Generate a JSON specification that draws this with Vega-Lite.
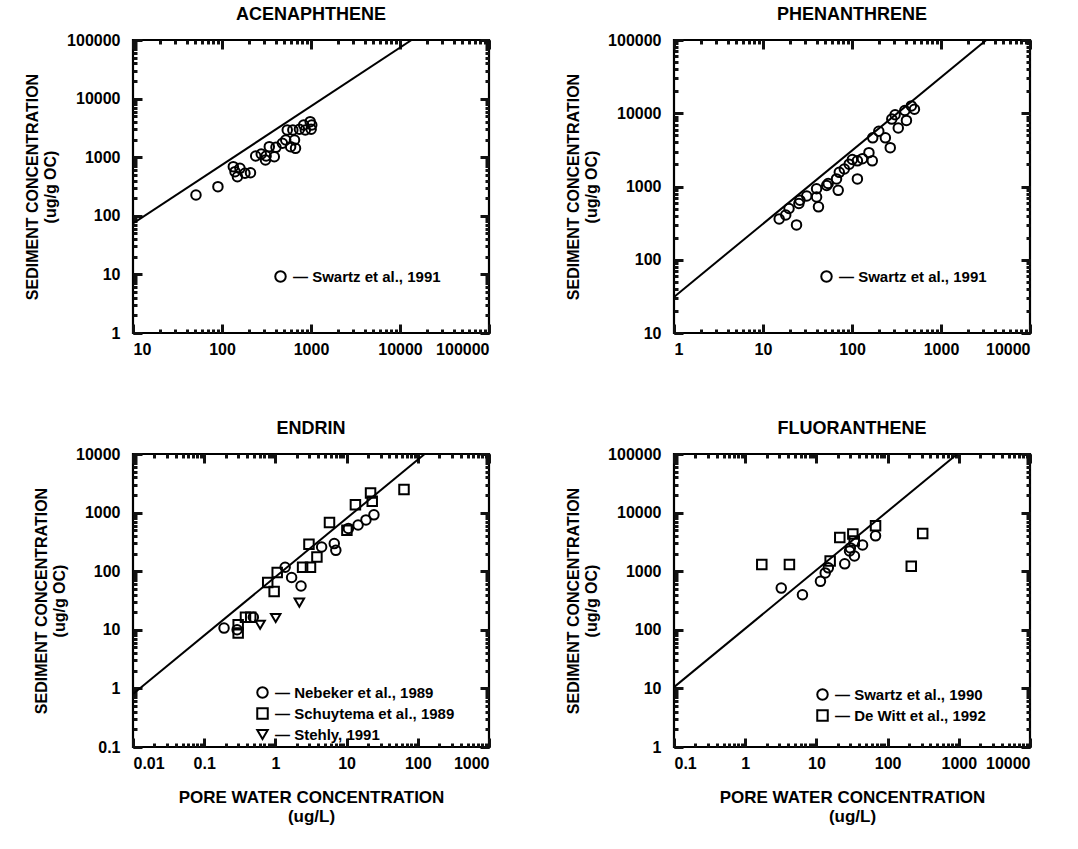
{
  "$schema": "https://vega.github.io/schema/vega-lite/v6.json",
  "background": "white",
  "padding": {"left": 23, "top": 4, "right": 5, "bottom": 5},
  "datasets": {
    "ace": [
      {"x": 51, "y": 226, "source": "Swartz et al., 1991"},
      {"x": 90, "y": 314, "source": "Swartz et al., 1991"},
      {"x": 134, "y": 689, "source": "Swartz et al., 1991"},
      {"x": 149, "y": 465, "source": "Swartz et al., 1991"},
      {"x": 140, "y": 566, "source": "Swartz et al., 1991"},
      {"x": 159, "y": 646, "source": "Swartz et al., 1991"},
      {"x": 181, "y": 531, "source": "Swartz et al., 1991"},
      {"x": 209, "y": 544, "source": "Swartz et al., 1991"},
      {"x": 239, "y": 1048, "source": "Swartz et al., 1991"},
      {"x": 276, "y": 1135, "source": "Swartz et al., 1991"},
      {"x": 308, "y": 895, "source": "Swartz et al., 1991"},
      {"x": 313, "y": 1048, "source": "Swartz et al., 1991"},
      {"x": 340, "y": 1513, "source": "Swartz et al., 1991"},
      {"x": 387, "y": 1020, "source": "Swartz et al., 1991"},
      {"x": 404, "y": 1474, "source": "Swartz et al., 1991"},
      {"x": 477, "y": 1726, "source": "Swartz et al., 1991"},
      {"x": 520, "y": 1967, "source": "Swartz et al., 1991"},
      {"x": 590, "y": 1513, "source": "Swartz et al., 1991"},
      {"x": 670, "y": 1416, "source": "Swartz et al., 1991"},
      {"x": 541, "y": 2911, "source": "Swartz et al., 1991"},
      {"x": 653, "y": 1967, "source": "Swartz et al., 1991"},
      {"x": 625, "y": 2911, "source": "Swartz et al., 1991"},
      {"x": 741, "y": 2992, "source": "Swartz et al., 1991"},
      {"x": 827, "y": 3548, "source": "Swartz et al., 1991"},
      {"x": 979, "y": 4040, "source": "Swartz et al., 1991"},
      {"x": 1004, "y": 2992, "source": "Swartz et al., 1991"},
      {"x": 863, "y": 2911, "source": "Swartz et al., 1991"},
      {"x": 1020, "y": 3548, "source": "Swartz et al., 1991"}
    ],
    "ace_fit": [{"x": 10, "y": 74}, {"x": 13500, "y": 100000}],
    "phe": [
      {"x": 464, "y": 12600, "source": "Swartz et al., 1991"},
      {"x": 392, "y": 10900, "source": "Swartz et al., 1991"},
      {"x": 503, "y": 11350, "source": "Swartz et al., 1991"},
      {"x": 305, "y": 9530, "source": "Swartz et al., 1991"},
      {"x": 280, "y": 8320, "source": "Swartz et al., 1991"},
      {"x": 409, "y": 7990, "source": "Swartz et al., 1991"},
      {"x": 331, "y": 6300, "source": "Swartz et al., 1991"},
      {"x": 200, "y": 5690, "source": "Swartz et al., 1991"},
      {"x": 171, "y": 4620, "source": "Swartz et al., 1991"},
      {"x": 237, "y": 4620, "source": "Swartz et al., 1991"},
      {"x": 269, "y": 3390, "source": "Swartz et al., 1991"},
      {"x": 155, "y": 2900, "source": "Swartz et al., 1991"},
      {"x": 169, "y": 2240, "source": "Swartz et al., 1991"},
      {"x": 115, "y": 2240, "source": "Swartz et al., 1991"},
      {"x": 115, "y": 1270, "source": "Swartz et al., 1991"},
      {"x": 93, "y": 2020, "source": "Swartz et al., 1991"},
      {"x": 82, "y": 1730, "source": "Swartz et al., 1991"},
      {"x": 72, "y": 1560, "source": "Swartz et al., 1991"},
      {"x": 67, "y": 1270, "source": "Swartz et al., 1991"},
      {"x": 70, "y": 887, "source": "Swartz et al., 1991"},
      {"x": 52, "y": 1035, "source": "Swartz et al., 1991"},
      {"x": 54, "y": 1100, "source": "Swartz et al., 1991"},
      {"x": 40, "y": 933, "source": "Swartz et al., 1991"},
      {"x": 31, "y": 742, "source": "Swartz et al., 1991"},
      {"x": 26, "y": 650, "source": "Swartz et al., 1991"},
      {"x": 101, "y": 2340, "source": "Swartz et al., 1991"},
      {"x": 131, "y": 2400, "source": "Swartz et al., 1991"},
      {"x": 40, "y": 720, "source": "Swartz et al., 1991"},
      {"x": 25.3, "y": 585, "source": "Swartz et al., 1991"},
      {"x": 19.6, "y": 501, "source": "Swartz et al., 1991"},
      {"x": 42, "y": 528, "source": "Swartz et al., 1991"},
      {"x": 18, "y": 408, "source": "Swartz et al., 1991"},
      {"x": 15.2, "y": 360, "source": "Swartz et al., 1991"},
      {"x": 23.8, "y": 299, "source": "Swartz et al., 1991"}
    ],
    "phe_fit": [{"x": 1, "y": 31}, {"x": 3230, "y": 100000}],
    "end": [
      {"x": 64, "y": 2480, "source": "Schuytema et al., 1989"},
      {"x": 21.7, "y": 2170, "source": "Schuytema et al., 1989"},
      {"x": 22.9, "y": 1560, "source": "Schuytema et al., 1989"},
      {"x": 13.3, "y": 1365, "source": "Schuytema et al., 1989"},
      {"x": 5.75, "y": 675, "source": "Schuytema et al., 1989"},
      {"x": 2.96, "y": 288, "source": "Schuytema et al., 1989"},
      {"x": 0.78, "y": 64, "source": "Schuytema et al., 1989"},
      {"x": 0.96, "y": 45, "source": "Schuytema et al., 1989"},
      {"x": 1.06, "y": 95, "source": "Schuytema et al., 1989"},
      {"x": 3.83, "y": 174, "source": "Schuytema et al., 1989"},
      {"x": 3.11, "y": 117, "source": "Schuytema et al., 1989"},
      {"x": 2.41, "y": 117, "source": "Schuytema et al., 1989"},
      {"x": 10.1, "y": 500, "source": "Schuytema et al., 1989"},
      {"x": 0.45, "y": 16.4, "source": "Schuytema et al., 1989"},
      {"x": 0.38, "y": 16.4, "source": "Schuytema et al., 1989"},
      {"x": 0.3, "y": 12.2, "source": "Schuytema et al., 1989"},
      {"x": 0.3, "y": 8.8, "source": "Schuytema et al., 1989"},
      {"x": 1.37, "y": 117, "source": "Nebeker et al., 1989"},
      {"x": 1.69, "y": 78, "source": "Nebeker et al., 1989"},
      {"x": 2.29, "y": 56, "source": "Nebeker et al., 1989"},
      {"x": 4.46, "y": 259, "source": "Nebeker et al., 1989"},
      {"x": 6.71, "y": 296, "source": "Nebeker et al., 1989"},
      {"x": 7.06, "y": 227, "source": "Nebeker et al., 1989"},
      {"x": 10.6, "y": 537, "source": "Nebeker et al., 1989"},
      {"x": 14.5, "y": 613, "source": "Nebeker et al., 1989"},
      {"x": 24.2, "y": 916, "source": "Nebeker et al., 1989"},
      {"x": 18.7, "y": 750, "source": "Nebeker et al., 1989"},
      {"x": 0.49, "y": 16.4, "source": "Nebeker et al., 1989"},
      {"x": 0.19, "y": 10.7, "source": "Nebeker et al., 1989"},
      {"x": 0.29, "y": 10, "source": "Nebeker et al., 1989"},
      {"x": 2.17, "y": 29, "source": "Stehly, 1991"},
      {"x": 1.01, "y": 15.9, "source": "Stehly, 1991"},
      {"x": 0.61, "y": 12.2, "source": "Stehly, 1991"}
    ],
    "end_fit": [{"x": 0.01, "y": 0.8}, {"x": 125, "y": 10000}],
    "flu": [
      {"x": 1.71, "y": 1306, "source": "De Witt et al., 1992"},
      {"x": 4.18, "y": 1306, "source": "De Witt et al., 1992"},
      {"x": 21.3, "y": 3750, "source": "De Witt et al., 1992"},
      {"x": 32.5, "y": 4300, "source": "De Witt et al., 1992"},
      {"x": 34, "y": 3290, "source": "De Witt et al., 1992"},
      {"x": 67.7, "y": 5970, "source": "De Witt et al., 1992"},
      {"x": 311, "y": 4400, "source": "De Witt et al., 1992"},
      {"x": 215, "y": 1220, "source": "De Witt et al., 1992"},
      {"x": 15.6, "y": 1487, "source": "De Witt et al., 1992"},
      {"x": 3.21, "y": 515, "source": "Swartz et al., 1990"},
      {"x": 6.37, "y": 396, "source": "Swartz et al., 1990"},
      {"x": 11.4, "y": 672, "source": "Swartz et al., 1990"},
      {"x": 13.3, "y": 935, "source": "Swartz et al., 1990"},
      {"x": 14.7, "y": 1140, "source": "Swartz et al., 1990"},
      {"x": 25, "y": 1336, "source": "Swartz et al., 1990"},
      {"x": 29.2, "y": 2210, "source": "Swartz et al., 1990"},
      {"x": 34.2, "y": 1815, "source": "Swartz et al., 1990"},
      {"x": 44.5, "y": 2800, "source": "Swartz et al., 1990"},
      {"x": 67.7, "y": 4010, "source": "Swartz et al., 1990"},
      {"x": 30, "y": 2500, "source": "Swartz et al., 1990"}
    ],
    "flu_fit": [{"x": 0.1, "y": 10.5}, {"x": 952, "y": 100000}]
  },
  "config": {
    "view": {"stroke": "black", "strokeWidth": 2.2},
    "font": "Liberation Sans",
    "axis": {
      "labelFont": "Liberation Sans", "labelFontWeight": "bold", "labelFontSize": 16, "labelColor": "black",
      "titleFont": "Liberation Sans", "titleFontWeight": "bold", "titleFontSize": 16, "titleColor": "black",
      "gridOpacity": 0, "domainColor": "black", "domainWidth": 2
    },
    "axisX": {"labelPadding": 8},
    "axisY": {"labelPadding": 13},
    "title": {"font": "Liberation Sans", "fontSize": 18, "fontWeight": "bold", "color": "black", "offset": 8},
    "legend": {
      "orient": "none", "title": null, "labelFont": "Liberation Sans", "labelFontSize": 15, "labelFontWeight": "bold",
      "labelColor": "black", "labelLimit": 400, "symbolStrokeColor": "black", "symbolStrokeWidth": 2, "symbolSize": 110, "symbolFillColor": "white", "symbolOpacity": 1,
      "rowPadding": 2, "labelOffset": 5
    }
  },
  "concat": [
    {
      "title": "ACENAPHTHENE",
      "width": 356, "height": 293,
      "layer": [
        {
          "data": {"name": "ace_fit"},
          "mark": {"type": "line", "color": "black", "strokeWidth": 2, "clip": true},
          "encoding": {
            "x": {"field": "x", "type": "quantitative", "scale": {"type": "log", "domain": [10, 100000]},
              "axis": {"orient": "top", "labels": false, "title": null, "domain": false, "grid": false, "ticks": true, "tickColor": "#111111", "tickWidth": 3, "tickSize": -4, "values": [10,20,30,40,50,60,70,80,90,100,200,300,400,500,600,700,800,900,1000,2000,3000,4000,5000,6000,7000,8000,9000,10000,20000,30000,40000,50000,60000,70000,80000,90000,100000]}},
            "y": {"field": "y", "type": "quantitative", "scale": {"type": "log", "domain": [1, 100000]},
              "axis": {"orient": "right", "labels": false, "title": null, "domain": false, "grid": false, "ticks": true, "tickColor": "#111111", "tickWidth": 3, "tickSize": -4, "values": [1,2,3,4,5,6,7,8,9,10,20,30,40,50,60,70,80,90,100,200,300,400,500,600,700,800,900,1000,2000,3000,4000,5000,6000,7000,8000,9000,10000,20000,30000,40000,50000,60000,70000,80000,90000,100000]}}
          }
        },
        {
          "data": {"name": "ace_fit"},
          "mark": {"type": "line", "opacity": 0},
          "encoding": {
            "x": {"field": "x", "type": "quantitative", "scale": {"type": "log", "domain": [10, 100000]},
              "axis": {"orient": "top", "labels": false, "title": null, "domain": false, "grid": false, "ticks": true, "tickColor": "#111111", "tickWidth": 3, "tickSize": -9, "values": [10,100,1000,10000,100000]}},
            "y": {"field": "y", "type": "quantitative", "scale": {"type": "log", "domain": [1, 100000]},
              "axis": {"orient": "right", "labels": false, "title": null, "domain": false, "grid": false, "ticks": true, "tickColor": "#111111", "tickWidth": 3, "tickSize": -9, "values": [1,10,100,1000,10000,100000]}}
          }
        },
        {
          "data": {"name": "ace_fit"},
          "mark": {"type": "line", "opacity": 0},
          "encoding": {
            "x": {"field": "x", "type": "quantitative", "scale": {"type": "log", "domain": [10, 100000]},
              "axis": {"orient": "bottom", "labels": false, "title": null, "domain": false, "grid": false, "ticks": true, "tickColor": "#111111", "tickWidth": 3, "tickSize": -4, "values": [10,20,30,40,50,60,70,80,90,100,200,300,400,500,600,700,800,900,1000,2000,3000,4000,5000,6000,7000,8000,9000,10000,20000,30000,40000,50000,60000,70000,80000,90000,100000]}},
            "y": {"field": "y", "type": "quantitative", "scale": {"type": "log", "domain": [1, 100000]},
              "axis": {"orient": "left", "labels": false, "title": null, "domain": false, "grid": false, "ticks": true, "tickColor": "#111111", "tickWidth": 3, "tickSize": -4, "values": [1,2,3,4,5,6,7,8,9,10,20,30,40,50,60,70,80,90,100,200,300,400,500,600,700,800,900,1000,2000,3000,4000,5000,6000,7000,8000,9000,10000,20000,30000,40000,50000,60000,70000,80000,90000,100000]}}
          }
        },
        {
          "data": {"name": "ace"},
          "mark": {"type": "point", "filled": false, "color": "black", "opacity": 1, "strokeWidth": 2, "size": 90},
          "encoding": {
            "x": {"field": "x", "type": "quantitative", "scale": {"type": "log", "domain": [10, 100000]},
              "axis": {"orient": "bottom", "title": null, "format": "~g", "domain": false, "grid": false, "ticks": true, "tickColor": "#111111", "tickWidth": 3, "tickSize": -9, "labelPadding": 17, "values": [10,100,1000,10000,100000]}},
            "y": {"field": "y", "type": "quantitative", "scale": {"type": "log", "domain": [1, 100000]},
              "axis": {"orient": "left", "title": ["SEDIMENT CONCENTRATION", "(ug/g OC)"], "titlePadding": 8, "format": "~g", "domain": false, "grid": false, "ticks": true, "tickColor": "#111111", "tickWidth": 3, "tickSize": -9, "labelPadding": 22, "values": [1,10,100,1000,10000,100000]}},
            "shape": {"field": "source", "type": "nominal", "scale": {"domain": ["Swartz et al., 1991"], "range": ["circle"]},
              "legend": {"legendX": 140, "legendY": 229, "labelExpr": "'\u2014  ' + datum.label"}}
          }
        }
      ],
      "resolve": {"axis": {"x": "independent", "y": "independent"}}
    },
    {
      "title": "PHENANTHRENE",
      "width": 356, "height": 293,
      "layer": [
        {
          "data": {"name": "phe_fit"},
          "mark": {"type": "line", "color": "black", "strokeWidth": 2, "clip": true},
          "encoding": {
            "x": {"field": "x", "type": "quantitative", "scale": {"type": "log", "domain": [1, 10000]},
              "axis": {"orient": "top", "labels": false, "title": null, "domain": false, "grid": false, "ticks": true, "tickColor": "#111111", "tickWidth": 3, "tickSize": -4, "values": [1,2,3,4,5,6,7,8,9,10,20,30,40,50,60,70,80,90,100,200,300,400,500,600,700,800,900,1000,2000,3000,4000,5000,6000,7000,8000,9000,10000]}},
            "y": {"field": "y", "type": "quantitative", "scale": {"type": "log", "domain": [10, 100000]},
              "axis": {"orient": "right", "labels": false, "title": null, "domain": false, "grid": false, "ticks": true, "tickColor": "#111111", "tickWidth": 3, "tickSize": -4, "values": [10,20,30,40,50,60,70,80,90,100,200,300,400,500,600,700,800,900,1000,2000,3000,4000,5000,6000,7000,8000,9000,10000,20000,30000,40000,50000,60000,70000,80000,90000,100000]}}
          }
        },
        {
          "data": {"name": "phe_fit"},
          "mark": {"type": "line", "opacity": 0},
          "encoding": {
            "x": {"field": "x", "type": "quantitative", "scale": {"type": "log", "domain": [1, 10000]},
              "axis": {"orient": "top", "labels": false, "title": null, "domain": false, "grid": false, "ticks": true, "tickColor": "#111111", "tickWidth": 3, "tickSize": -9, "values": [1,10,100,1000,10000]}},
            "y": {"field": "y", "type": "quantitative", "scale": {"type": "log", "domain": [10, 100000]},
              "axis": {"orient": "right", "labels": false, "title": null, "domain": false, "grid": false, "ticks": true, "tickColor": "#111111", "tickWidth": 3, "tickSize": -9, "values": [10,100,1000,10000,100000]}}
          }
        },
        {
          "data": {"name": "phe_fit"},
          "mark": {"type": "line", "opacity": 0},
          "encoding": {
            "x": {"field": "x", "type": "quantitative", "scale": {"type": "log", "domain": [1, 10000]},
              "axis": {"orient": "bottom", "labels": false, "title": null, "domain": false, "grid": false, "ticks": true, "tickColor": "#111111", "tickWidth": 3, "tickSize": -4, "values": [1,2,3,4,5,6,7,8,9,10,20,30,40,50,60,70,80,90,100,200,300,400,500,600,700,800,900,1000,2000,3000,4000,5000,6000,7000,8000,9000,10000]}},
            "y": {"field": "y", "type": "quantitative", "scale": {"type": "log", "domain": [10, 100000]},
              "axis": {"orient": "left", "labels": false, "title": null, "domain": false, "grid": false, "ticks": true, "tickColor": "#111111", "tickWidth": 3, "tickSize": -4, "values": [10,20,30,40,50,60,70,80,90,100,200,300,400,500,600,700,800,900,1000,2000,3000,4000,5000,6000,7000,8000,9000,10000,20000,30000,40000,50000,60000,70000,80000,90000,100000]}}
          }
        },
        {
          "data": {"name": "phe"},
          "mark": {"type": "point", "filled": false, "color": "black", "opacity": 1, "strokeWidth": 2, "size": 90},
          "encoding": {
            "x": {"field": "x", "type": "quantitative", "scale": {"type": "log", "domain": [1, 10000]},
              "axis": {"orient": "bottom", "title": null, "format": "~g", "domain": false, "grid": false, "ticks": true, "tickColor": "#111111", "tickWidth": 3, "tickSize": -9, "labelPadding": 17, "values": [1,10,100,1000,10000]}},
            "y": {"field": "y", "type": "quantitative", "scale": {"type": "log", "domain": [10, 100000]},
              "axis": {"orient": "left", "title": ["SEDIMENT CONCENTRATION", "(ug/g OC)"], "titlePadding": 8, "format": "~g", "domain": false, "grid": false, "ticks": true, "tickColor": "#111111", "tickWidth": 3, "tickSize": -9, "labelPadding": 22, "values": [10,100,1000,10000,100000]}},
            "shape": {"field": "source", "type": "nominal", "scale": {"domain": ["Swartz et al., 1991"], "range": ["circle"]},
              "legend": {"legendX": 145, "legendY": 229, "labelExpr": "'\u2014  ' + datum.label"}}
          }
        }
      ],
      "resolve": {"axis": {"x": "independent", "y": "independent"}}
    },
    {
      "title": "ENDRIN",
      "width": 356, "height": 293,
      "layer": [
        {
          "data": {"name": "end_fit"},
          "mark": {"type": "line", "color": "black", "strokeWidth": 2, "clip": true},
          "encoding": {
            "x": {"field": "x", "type": "quantitative", "scale": {"type": "log", "domain": [0.01, 1000]},
              "axis": {"orient": "top", "labels": false, "title": null, "domain": false, "grid": false, "ticks": true, "tickColor": "#111111", "tickWidth": 3, "tickSize": -4, "values": [0.01,0.02,0.03,0.04,0.05,0.06,0.07,0.08,0.09,0.1,0.2,0.3,0.4,0.5,0.6,0.7,0.8,0.9,1,2,3,4,5,6,7,8,9,10,20,30,40,50,60,70,80,90,100,200,300,400,500,600,700,800,900,1000]}},
            "y": {"field": "y", "type": "quantitative", "scale": {"type": "log", "domain": [0.1, 10000]},
              "axis": {"orient": "right", "labels": false, "title": null, "domain": false, "grid": false, "ticks": true, "tickColor": "#111111", "tickWidth": 3, "tickSize": -4, "values": [0.1,0.2,0.3,0.4,0.5,0.6,0.7,0.8,0.9,1,2,3,4,5,6,7,8,9,10,20,30,40,50,60,70,80,90,100,200,300,400,500,600,700,800,900,1000,2000,3000,4000,5000,6000,7000,8000,9000,10000]}}
          }
        },
        {
          "data": {"name": "end_fit"},
          "mark": {"type": "line", "opacity": 0},
          "encoding": {
            "x": {"field": "x", "type": "quantitative", "scale": {"type": "log", "domain": [0.01, 1000]},
              "axis": {"orient": "top", "labels": false, "title": null, "domain": false, "grid": false, "ticks": true, "tickColor": "#111111", "tickWidth": 3, "tickSize": -9, "values": [0.01,0.1,1,10,100,1000]}},
            "y": {"field": "y", "type": "quantitative", "scale": {"type": "log", "domain": [0.1, 10000]},
              "axis": {"orient": "right", "labels": false, "title": null, "domain": false, "grid": false, "ticks": true, "tickColor": "#111111", "tickWidth": 3, "tickSize": -9, "values": [0.1,1,10,100,1000,10000]}}
          }
        },
        {
          "data": {"name": "end_fit"},
          "mark": {"type": "line", "opacity": 0},
          "encoding": {
            "x": {"field": "x", "type": "quantitative", "scale": {"type": "log", "domain": [0.01, 1000]},
              "axis": {"orient": "bottom", "labels": false, "title": null, "domain": false, "grid": false, "ticks": true, "tickColor": "#111111", "tickWidth": 3, "tickSize": -4, "values": [0.01,0.02,0.03,0.04,0.05,0.06,0.07,0.08,0.09,0.1,0.2,0.3,0.4,0.5,0.6,0.7,0.8,0.9,1,2,3,4,5,6,7,8,9,10,20,30,40,50,60,70,80,90,100,200,300,400,500,600,700,800,900,1000]}},
            "y": {"field": "y", "type": "quantitative", "scale": {"type": "log", "domain": [0.1, 10000]},
              "axis": {"orient": "left", "labels": false, "title": null, "domain": false, "grid": false, "ticks": true, "tickColor": "#111111", "tickWidth": 3, "tickSize": -4, "values": [0.1,0.2,0.3,0.4,0.5,0.6,0.7,0.8,0.9,1,2,3,4,5,6,7,8,9,10,20,30,40,50,60,70,80,90,100,200,300,400,500,600,700,800,900,1000,2000,3000,4000,5000,6000,7000,8000,9000,10000]}}
          }
        },
        {
          "data": {"name": "end"},
          "mark": {"type": "point", "filled": false, "color": "black", "opacity": 1, "strokeWidth": 2, "size": 90},
          "encoding": {
            "x": {"field": "x", "type": "quantitative", "scale": {"type": "log", "domain": [0.01, 1000]},
              "axis": {"orient": "bottom", "title": ["PORE WATER CONCENTRATION", "(ug/L)"], "titleFontSize": 17, "titlePadding": 18, "format": "~g", "domain": false, "grid": false, "ticks": true, "tickColor": "#111111", "tickWidth": 3, "tickSize": -9, "labelPadding": 17, "values": [0.01,0.1,1,10,100,1000]}},
            "y": {"field": "y", "type": "quantitative", "scale": {"type": "log", "domain": [0.1, 10000]},
              "axis": {"orient": "left", "title": ["SEDIMENT CONCENTRATION", "(ug/g OC)"], "titlePadding": 8, "format": "~g", "domain": false, "grid": false, "ticks": true, "tickColor": "#111111", "tickWidth": 3, "tickSize": -9, "labelPadding": 22, "values": [0.1,1,10,100,1000,10000]}},
            "shape": {"field": "source", "type": "nominal", "scale": {"domain": ["Nebeker et al., 1989", "Schuytema et al., 1989", "Stehly, 1991"], "range": ["circle", "square", "triangle-down"]},
              "legend": {"legendX": 122, "legendY": 231, "labelExpr": "'\u2014  ' + datum.label"}}
          }
        }
      ],
      "resolve": {"axis": {"x": "independent", "y": "independent"}}
    },
    {
      "title": "FLUORANTHENE",
      "width": 356, "height": 293,
      "layer": [
        {
          "data": {"name": "flu_fit"},
          "mark": {"type": "line", "color": "black", "strokeWidth": 2, "clip": true},
          "encoding": {
            "x": {"field": "x", "type": "quantitative", "scale": {"type": "log", "domain": [0.1, 10000]},
              "axis": {"orient": "top", "labels": false, "title": null, "domain": false, "grid": false, "ticks": true, "tickColor": "#111111", "tickWidth": 3, "tickSize": -4, "values": [0.1,0.2,0.3,0.4,0.5,0.6,0.7,0.8,0.9,1,2,3,4,5,6,7,8,9,10,20,30,40,50,60,70,80,90,100,200,300,400,500,600,700,800,900,1000,2000,3000,4000,5000,6000,7000,8000,9000,10000]}},
            "y": {"field": "y", "type": "quantitative", "scale": {"type": "log", "domain": [1, 100000]},
              "axis": {"orient": "right", "labels": false, "title": null, "domain": false, "grid": false, "ticks": true, "tickColor": "#111111", "tickWidth": 3, "tickSize": -4, "values": [1,2,3,4,5,6,7,8,9,10,20,30,40,50,60,70,80,90,100,200,300,400,500,600,700,800,900,1000,2000,3000,4000,5000,6000,7000,8000,9000,10000,20000,30000,40000,50000,60000,70000,80000,90000,100000]}}
          }
        },
        {
          "data": {"name": "flu_fit"},
          "mark": {"type": "line", "opacity": 0},
          "encoding": {
            "x": {"field": "x", "type": "quantitative", "scale": {"type": "log", "domain": [0.1, 10000]},
              "axis": {"orient": "top", "labels": false, "title": null, "domain": false, "grid": false, "ticks": true, "tickColor": "#111111", "tickWidth": 3, "tickSize": -9, "values": [0.1,1,10,100,1000,10000]}},
            "y": {"field": "y", "type": "quantitative", "scale": {"type": "log", "domain": [1, 100000]},
              "axis": {"orient": "right", "labels": false, "title": null, "domain": false, "grid": false, "ticks": true, "tickColor": "#111111", "tickWidth": 3, "tickSize": -9, "values": [1,10,100,1000,10000,100000]}}
          }
        },
        {
          "data": {"name": "flu_fit"},
          "mark": {"type": "line", "opacity": 0},
          "encoding": {
            "x": {"field": "x", "type": "quantitative", "scale": {"type": "log", "domain": [0.1, 10000]},
              "axis": {"orient": "bottom", "labels": false, "title": null, "domain": false, "grid": false, "ticks": true, "tickColor": "#111111", "tickWidth": 3, "tickSize": -4, "values": [0.1,0.2,0.3,0.4,0.5,0.6,0.7,0.8,0.9,1,2,3,4,5,6,7,8,9,10,20,30,40,50,60,70,80,90,100,200,300,400,500,600,700,800,900,1000,2000,3000,4000,5000,6000,7000,8000,9000,10000]}},
            "y": {"field": "y", "type": "quantitative", "scale": {"type": "log", "domain": [1, 100000]},
              "axis": {"orient": "left", "labels": false, "title": null, "domain": false, "grid": false, "ticks": true, "tickColor": "#111111", "tickWidth": 3, "tickSize": -4, "values": [1,2,3,4,5,6,7,8,9,10,20,30,40,50,60,70,80,90,100,200,300,400,500,600,700,800,900,1000,2000,3000,4000,5000,6000,7000,8000,9000,10000,20000,30000,40000,50000,60000,70000,80000,90000,100000]}}
          }
        },
        {
          "data": {"name": "flu"},
          "mark": {"type": "point", "filled": false, "color": "black", "opacity": 1, "strokeWidth": 2, "size": 90},
          "encoding": {
            "x": {"field": "x", "type": "quantitative", "scale": {"type": "log", "domain": [0.1, 10000]},
              "axis": {"orient": "bottom", "title": ["PORE WATER CONCENTRATION", "(ug/L)"], "titleFontSize": 17, "titlePadding": 18, "format": "~g", "domain": false, "grid": false, "ticks": true, "tickColor": "#111111", "tickWidth": 3, "tickSize": -9, "labelPadding": 17, "values": [0.1,1,10,100,1000,10000]}},
            "y": {"field": "y", "type": "quantitative", "scale": {"type": "log", "domain": [1, 100000]},
              "axis": {"orient": "left", "title": ["SEDIMENT CONCENTRATION", "(ug/g OC)"], "titlePadding": 8, "format": "~g", "domain": false, "grid": false, "ticks": true, "tickColor": "#111111", "tickWidth": 3, "tickSize": -9, "labelPadding": 22, "values": [1,10,100,1000,10000,100000]}},
            "shape": {"field": "source", "type": "nominal", "scale": {"domain": ["Swartz et al., 1990", "De Witt et al., 1992"], "range": ["circle", "square"]},
              "legend": {"legendX": 141, "legendY": 233, "labelExpr": "'\u2014  ' + datum.label"}}
          }
        }
      ],
      "resolve": {"axis": {"x": "independent", "y": "independent"}}
    }
  ],
  "columns": 2,
  "spacing": {"row": 121, "column": 185},
  "bounds": "flush",
  "resolve": {"scale": {"x": "independent", "y": "independent", "shape": "independent"}, "legend": {"shape": "independent"}}
}
